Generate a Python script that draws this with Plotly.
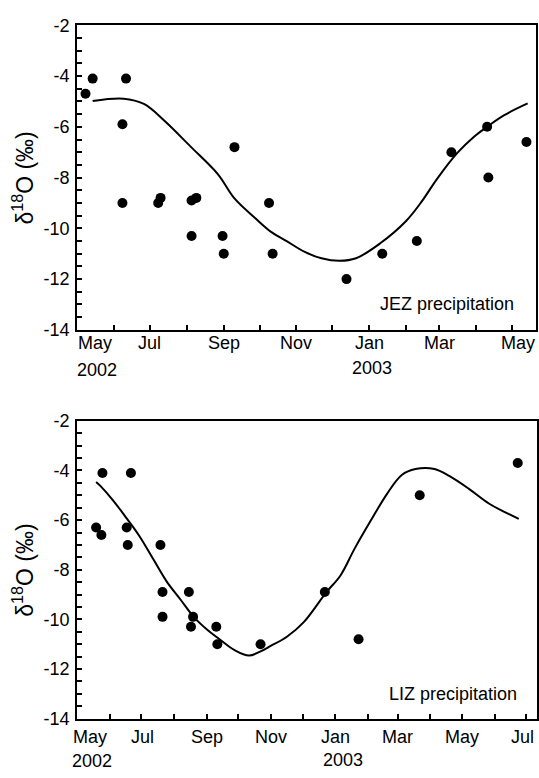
import plotly.graph_objects as go

# ---------------- data ----------------
jez_dates = ["2002-05-08", "2002-05-14", "2002-06-11", "2002-06-08", "2002-06-08",
             "2002-07-08", "2002-07-10", "2002-08-05", "2002-08-09", "2002-08-05",
             "2002-08-31", "2002-09-01", "2002-09-10", "2002-10-09", "2002-10-12",
             "2002-12-13", "2003-01-12", "2003-02-10", "2003-03-11", "2003-04-10",
             "2003-04-11", "2003-05-13"]
jez_d18o = [-4.7, -4.1, -4.1, -5.9, -9.0,
            -9.0, -8.8, -8.9, -8.8, -10.3,
            -10.3, -11.0, -6.8, -9.0, -11.0,
            -12.0, -11.0, -10.5, -7.0, -6.0,
            -8.0, -6.6]

jez_fit_dates = ["2002-05-14", "2002-06-09", "2002-06-26", "2002-07-13", "2002-08-04",
                 "2002-08-27", "2002-09-10", "2002-09-27", "2002-10-11", "2002-10-23",
                 "2002-11-08", "2002-11-22", "2002-12-07", "2002-12-21", "2003-01-10",
                 "2003-02-01", "2003-02-14", "2003-02-27", "2003-03-16", "2003-03-30",
                 "2003-04-10", "2003-04-24", "2003-05-14"]
jez_fit = [-4.98, -4.89, -5.1, -5.75, -6.77,
           -7.86, -8.82, -9.58, -10.15, -10.48,
           -10.93, -11.18, -11.28, -11.18, -10.6,
           -9.71, -8.95, -8.05, -7.03, -6.39,
           -6.0, -5.55, -5.08]

liz_dates = ["2002-05-19", "2002-05-24", "2002-05-25", "2002-06-21", "2002-06-17",
             "2002-06-18", "2002-07-19", "2002-07-21", "2002-07-21", "2002-08-15",
             "2002-08-17", "2002-08-19", "2002-09-10", "2002-09-11", "2002-10-22",
             "2002-12-22", "2003-01-23", "2003-03-22", "2003-06-23"]
liz_d18o = [-6.3, -6.6, -4.1, -4.1, -6.3,
            -7.0, -7.0, -8.9, -9.9, -8.9,
            -10.3, -9.9, -10.3, -11.0, -11.0,
            -8.9, -10.8, -5.0, -3.7]

liz_fit_dates = ["2002-05-19", "2002-05-23", "2002-06-04", "2002-06-17", "2002-06-29",
                 "2002-07-12", "2002-07-25", "2002-08-07", "2002-08-20", "2002-09-02",
                 "2002-09-14", "2002-09-27", "2002-10-11", "2002-10-22", "2002-11-01",
                 "2002-11-16", "2002-12-02", "2002-12-23", "2003-01-06", "2003-01-19",
                 "2003-02-04", "2003-02-19", "2003-03-05", "2003-03-18", "2003-04-05",
                 "2003-04-19", "2003-05-08", "2003-05-27", "2003-06-24"]
liz_fit = [-4.46, -4.62, -5.2, -5.93, -6.64,
           -7.56, -8.48, -9.2, -9.92, -10.44,
           -10.83, -11.23, -11.46, -11.29, -11.06,
           -10.7, -10.11, -8.93, -8.22, -7.17,
           -5.99, -4.94, -4.18, -3.94, -3.94,
           -4.22, -4.75, -5.34, -5.95]

y_tick_vals = [-2, -4, -6, -8, -10, -12, -14]
y_tick_text = ["-2", "-4", "-6", "-8", "-10", "-12", "-14"]

month_ticks_top = ["2002-05-01", "2002-06-01", "2002-07-01", "2002-08-01", "2002-09-01",
                   "2002-10-01", "2002-11-01", "2002-12-01", "2003-01-01", "2003-02-01",
                   "2003-03-01", "2003-04-01", "2003-05-01"]
month_ticks_bot = month_ticks_top + ["2003-06-01", "2003-07-01"]

top_label_dates = ["2002-05-01", "2002-07-01", "2002-09-01", "2002-11-01",
                   "2003-01-01", "2003-03-01", "2003-05-01"]
top_label_text = ["May", "Jul", "Sep", "Nov", "Jan", "Mar", "May"]
bot_label_dates = ["2002-05-01", "2002-07-01", "2002-09-01", "2002-11-01",
                   "2003-01-01", "2003-03-01", "2003-05-01", "2003-07-01"]
bot_label_text = ["May", "Jul", "Sep", "Nov", "Jan", "Mar", "May", "Jul"]
year_dates = ["2002-05-01", "2003-01-01"]
year_text = ["2002", "2003"]

# ---------------- figure ----------------
FONT = "Liberation Sans, Arial, Helvetica, sans-serif"
W, H = 539, 778

fig = go.Figure()

mk = dict(color="black", size=10)
ln = dict(color="black", width=2)

fig.add_trace(go.Scatter(x=jez_fit_dates, y=jez_fit, mode="lines", line=ln,
                         line_shape="spline", xaxis="x", yaxis="y", showlegend=False))
fig.add_trace(go.Scatter(x=jez_dates, y=jez_d18o, mode="markers", marker=mk,
                         xaxis="x", yaxis="y", showlegend=False))
fig.add_trace(go.Scatter(x=liz_fit_dates, y=liz_fit, mode="lines", line=ln,
                         line_shape="spline", xaxis="x2", yaxis="y2", showlegend=False))
fig.add_trace(go.Scatter(x=liz_dates, y=liz_d18o, mode="markers", marker=mk,
                         xaxis="x2", yaxis="y2", showlegend=False))

def xax(domain, rng, ticks, anchor):
    return dict(domain=domain, range=rng, type="date", anchor=anchor,
                tickvals=ticks, ticks="inside", ticklen=5, tickwidth=1.5,
                tickcolor="black", showticklabels=False, showgrid=False,
                zeroline=False, showline=True, linecolor="black", linewidth=2,
                mirror=True)

def yax(domain, anchor):
    return dict(domain=domain, range=[-14, -2], anchor=anchor,
                tickmode="array", tickvals=y_tick_vals, ticktext=y_tick_text,
                ticks="inside", ticklen=5, tickwidth=1.5, tickcolor="black",
                minor=dict(dtick=0.5, ticks="inside", ticklen=5, tickwidth=1.5,
                           tickcolor="black", showgrid=False),
                showgrid=False, zeroline=False, showline=True, linecolor="black",
                linewidth=2, mirror=True, ticklabelstandoff=2,
                tickfont=dict(family=FONT, size=18, color="black"))

xd_top = [77.3 / W, 537.0 / W]
xd_bot = [77.3 / W, 537.7 / W]
yd_top = [1 - 328.3 / H, 1 - 15.7 / H]
yd_bot = [1 - 727.3 / H, 1 - 421.7 / H]

fig.update_layout(
    width=W, height=H, margin=dict(l=0, r=0, t=0, b=0),
    paper_bgcolor="white", plot_bgcolor="white",
    font=dict(family=FONT, size=18, color="black"),
    xaxis=xax(xd_top, ["2002-05-01", "2003-05-21"], month_ticks_top, "y"),
    yaxis=yax(yd_top, "x"),
    xaxis2=xax(xd_bot, ["2002-05-01", "2003-07-11"], month_ticks_bot, "y2"),
    yaxis2=yax(yd_bot, "x2"),
)

ann = []
# month labels
top_shift = [-1, 0, 0, 0, 0, 0, 6]
top_anchor = ["left", "center", "center", "center", "center", "center", "center"]
for d, t, s, a in zip(top_label_dates, top_label_text, top_shift, top_anchor):
    ann.append(dict(x=d, xref="x", y=1 - 342 / H, yref="paper", text=t,
                    showarrow=False, xanchor=a, yanchor="middle", xshift=s,
                    font=dict(size=18)))
bot_shift = [-6, 1, 0, 0, 0, 0, 0, -4]
bot_anchor = ["left", "center", "center", "center", "center", "center", "center", "center"]
for d, t, s, a in zip(bot_label_dates, bot_label_text, bot_shift, bot_anchor):
    ann.append(dict(x=d, xref="x2", y=1 - 746 / H, yref="paper", text=t,
                    showarrow=False, xanchor=a, yanchor="middle", xshift=s,
                    font=dict(size=18)))
# year labels
ann.append(dict(x=year_dates[0], xref="x", y=1 - 369 / H, yref="paper", text=year_text[0],
                showarrow=False, xanchor="left", xshift=-2, yanchor="middle", font=dict(size=18)))
ann.append(dict(x=year_dates[1], xref="x", y=1 - 367 / H, yref="paper", text=year_text[1],
                showarrow=False, xanchor="center", xshift=3, yanchor="middle", font=dict(size=18)))
ann.append(dict(x=year_dates[0], xref="x2", y=1 - 771 / H, yref="paper", text=year_text[0],
                showarrow=False, xanchor="left", xshift=-7, yanchor="middle", font=dict(size=18)))
ann.append(dict(x=year_dates[1], xref="x2", y=1 - 770 / H, yref="paper", text=year_text[1],
                showarrow=False, xanchor="center", xshift=8, yanchor="middle", font=dict(size=18)))
# panel labels
ann.append(dict(x=516.7 / W, xref="paper", y=1 - 301.7 / H, yref="paper",
                text="JEZ precipitation", showarrow=False, xanchor="right",
                yanchor="middle", font=dict(size=18)))
ann.append(dict(x=520 / W, xref="paper", y=1 - 701.7 / H, yref="paper",
                text="LIZ precipitation", showarrow=False, xanchor="right",
                yanchor="middle", font=dict(size=18)))
# y-axis titles
ytitle = "δ<sup>18</sup>O (‰)"
for yc in [(yd_top[0] + yd_top[1]) / 2, (yd_bot[0] + yd_bot[1]) / 2]:
    ann.append(dict(x=23 / W, xref="paper", y=yc, yref="paper", text=ytitle,
                    showarrow=False, textangle=-90, xanchor="center", yanchor="middle",
                    font=dict(size=23)))

fig.update_layout(annotations=ann)

fig.write_html("out.html", config={"displayModeBar": False},
               post_script="document.body.style.margin='0';document.body.style.padding='0';"
                           "document.body.style.overflow='hidden';")
